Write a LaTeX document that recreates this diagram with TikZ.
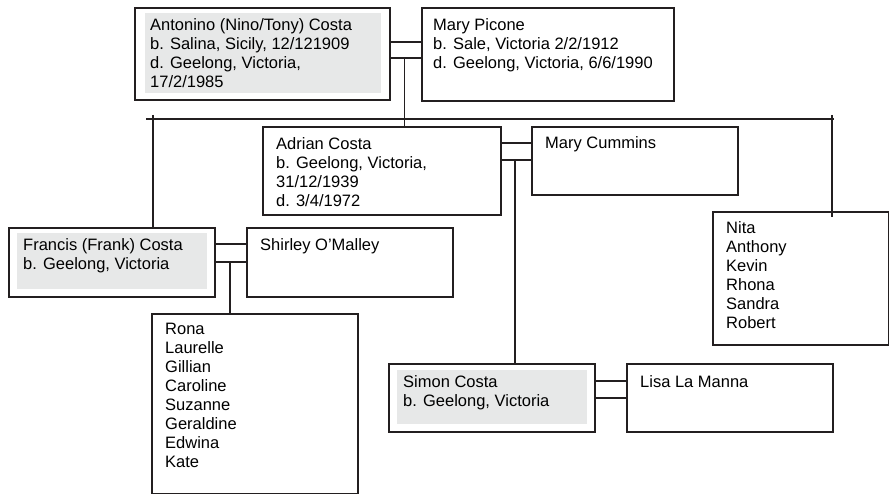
\documentclass[tikz,border=0pt]{standalone}
\usepackage{fontspec}
\setmainfont{Liberation Sans}
\usetikzlibrary{calc}
\definecolor{ink}{HTML}{231F20}
\definecolor{panelgray}{HTML}{E7E8E8}
\begin{document}
\begin{tikzpicture}[x=1pt,y=-1pt,
  person/.style={draw=ink,line width=1.6pt,anchor=north west,inner sep=0pt,
    minimum width=#1},
  person/.default=206pt,
  txt/.style={anchor=north west,align=left,inner sep=0pt,text=black,
    font=\fontsize{16.5}{19}\selectfont},
  link/.style={draw=ink,line width=1.3pt}]
\useasboundingbox (0,0) rectangle (889,494);

% --- shaded backgrounds of the Costa line
\fill[panelgray] (145,13) rectangle (381,93);
\fill[panelgray] (17,233) rectangle (207,289);
\fill[panelgray] (397,370) rectangle (587,424);

% --- boxes
\node[person=255pt,minimum height=92pt] (ant) at (134,7) {};
\node[person=252pt,minimum height=93pt] (mp)  at (421,7) {};
\node[person=238pt,minimum height=88pt] (adr) at (262,126) {};
\node[person,minimum height=68pt]       (mc)  at (531,126) {};
\node[person=176pt,minimum height=133pt] (nita) at (712,211) {};
\node[person,minimum height=69pt]       (fra) at (8,227) {};
\node[person,minimum height=69pt]       (shi) at (246,227) {};
\node[person,minimum height=180pt]      (rona) at (151,313) {};
\node[person,minimum height=68pt]       (sim) at (388,363) {};
\node[person,minimum height=68pt]       (lisa) at (626,363) {};

% --- texts
\node[txt] (tant) at ($(ant.north west)+(16,11)$) {Antonino (Nino/Tony) Costa\\b. Salina, Sicily, 12/121909\\d. Geelong, Victoria,\\17/2/1985};
\node[txt] (tmp) at ($(mp.north west)+(12,11)$) {Mary Picone\\b. Sale, Victoria 2/2/1912\\d. Geelong, Victoria, 6/6/1990};
\node[txt] (tadr) at ($(adr.north west)+(14,11)$) {Adrian Costa\\b. Geelong, Victoria,\\31/12/1939\\d. 3/4/1972};
\node[txt] (tmc) at ($(mc.north west)+(14,10)$) {Mary Cummins};
\node[txt] (tnita) at ($(nita.north west)+(14,10)$) {Nita\\Anthony\\Kevin\\Rhona\\Sandra\\Robert};
\node[txt] (tfra) at ($(fra.north west)+(15,11)$) {Francis (Frank) Costa\\b. Geelong, Victoria};
\node[txt] (tshi) at ($(shi.north west)+(14,11)$) {Shirley O’Malley};
\node[txt] (trona) at ($(rona.north west)+(14,10)$) {Rona\\Laurelle\\Gillian\\Caroline\\Suzanne\\Geraldine\\Edwina\\Kate};
\node[txt] (tsim) at ($(sim.north west)+(15,12)$) {Simon Costa\\b. Geelong, Victoria};
\node[txt] (tlisa) at ($(lisa.north west)+(14,12)$) {Lisa La Manna};

% --- marriage links (double bars)
\draw[link] (ant.east |- 0,42) -- (mp.west |- 0,42);
\draw[link] (ant.east |- 0,58) -- (mp.west |- 0,58);
\draw[link] (adr.east |- 0,143) -- (mc.west |- 0,143);
\draw[link] (adr.east |- 0,160) -- (mc.west |- 0,160);
\draw[link] (fra.east |- 0,244) -- (shi.west |- 0,244);
\draw[link] (fra.east |- 0,262) -- (shi.west |- 0,262);
\draw[link] (sim.east |- 0,381) -- (lisa.west |- 0,381);
\draw[link] (sim.east |- 0,398) -- (lisa.west |- 0,398);

% --- descent lines
\coordinate (sibL) at (146,119);
\coordinate (sibR) at (834,119);
\coordinate (antDrop) at (404.5,58);
\coordinate (fraTop) at (153,115);
\coordinate (nitaTop) at (832,115);
\coordinate (nitaEnd) at (832,217);
\coordinate (adrDrop) at (515,160);
\coordinate (fraDrop) at (230,262);
\draw[link] (sibL) -- (sibR);
\draw[link] (antDrop) -- (antDrop |- adr.north);
\draw[link] (fraTop) -- (fraTop |- fra.north);
\draw[link] (nitaTop) -- (nitaEnd);
\draw[link] (adrDrop) -- (adrDrop |- sim.north);
\draw[link] (fraDrop) -- (fraDrop |- rona.north);
\end{tikzpicture}
\end{document}
